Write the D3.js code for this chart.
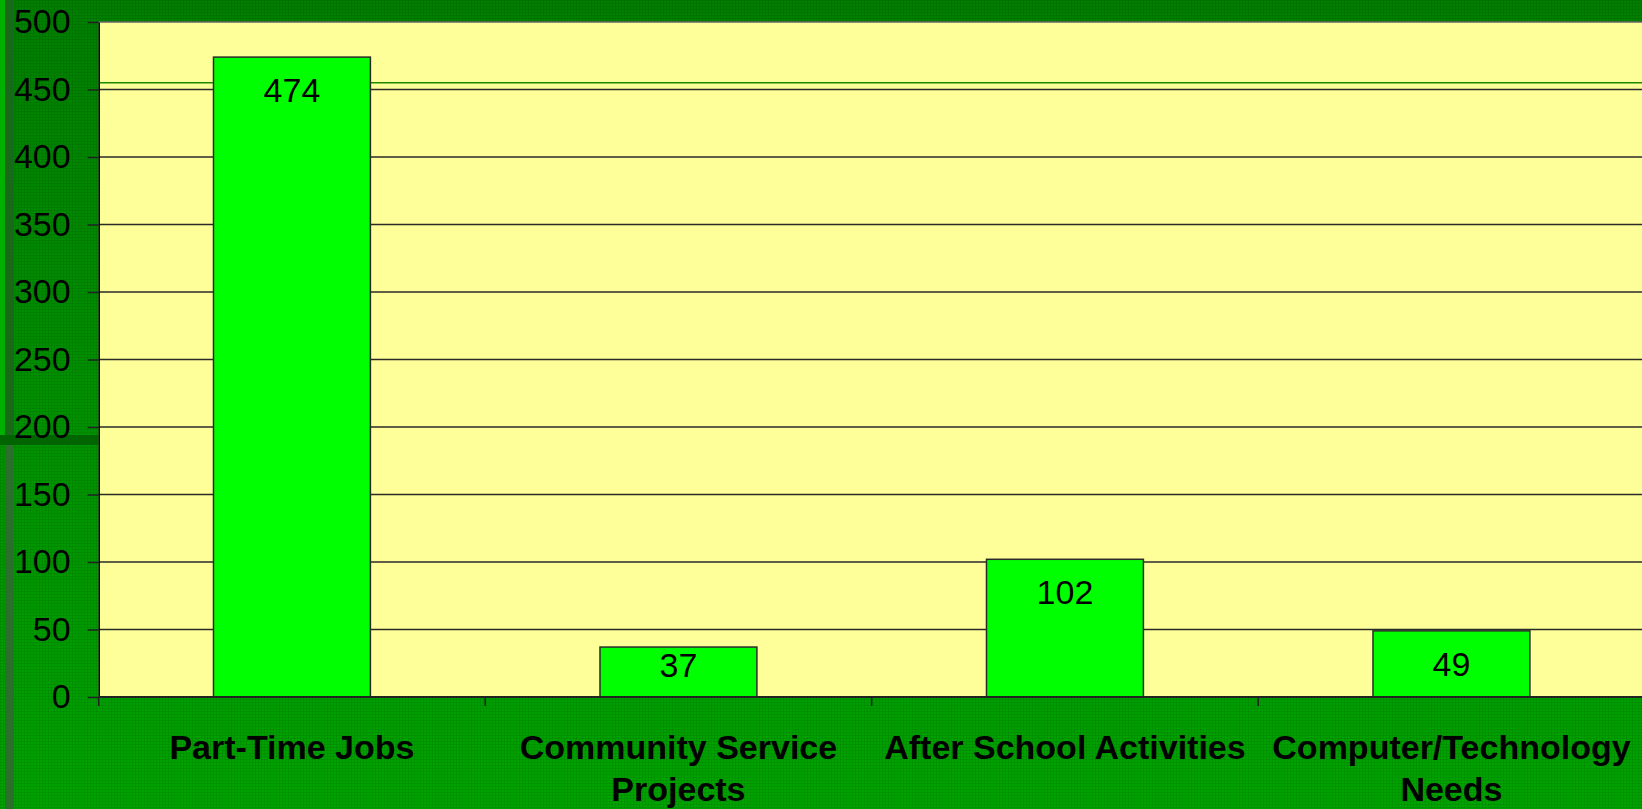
<!DOCTYPE html>
<html>
<head>
<meta charset="utf-8">
<script src="https://cdn.jsdelivr.net/npm/d3@7"></script>
<style>
  html, body { margin: 0; padding: 0; overflow: hidden; background: #008a00; }
  svg { display: block; }
  text { font-family: "Liberation Sans", Arial, sans-serif; }
</style>
</head>
<body>
<svg id="chart" width="1642" height="809"></svg>
<script>
// chart data
const categories = ["Part-Time Jobs", "Community Service Projects", "After School Activities", "Computer/Technology Needs"]
const counts = [474, 37, 102, 49]
const yTicks = [0, 50, 100, 150, 200, 250, 300, 350, 400, 450, 500]

const svg = d3.select("#chart")
const width = 1642
const height = 809
const margin = {top: 22, left: 98.7, bottom: 697}
const plotRight = 1644.7

// background, a rough copy of the slide texture
const defs = svg.append("defs")
const grad = defs.append("linearGradient")
  .attr("id", "bg").attr("x1", 0).attr("y1", 0).attr("x2", 0).attr("y2", 1)
grad.append("stop").attr("offset", "0%").attr("stop-color", "#007f00")
grad.append("stop").attr("offset", "100%").attr("stop-color", "#00a300")

const pat = defs.append("pattern")
  .attr("id", "weave").attr("width", 3).attr("height", 3)
  .attr("patternUnits", "userSpaceOnUse")
pat.append("rect").attr("width", 3).attr("height", 1).attr("fill", "rgba(0,0,0,0.07)")
pat.append("rect").attr("width", 1).attr("height", 3).attr("fill", "rgba(0,0,0,0.07)")

svg.append("rect").attr("width", width).attr("height", height).attr("fill", "url(#bg)")
svg.append("rect").attr("width", width).attr("height", height).attr("fill", "url(#weave)")

// left edge decoration
svg.append("rect").attr("x", 0).attr("y", 0).attr("width", 5).attr("height", 435).attr("fill", "#00b000")
svg.append("rect").attr("x", 5).attr("y", 0).attr("width", 9).attr("height", 435).attr("fill", "#186a18")
svg.append("rect").attr("x", 5).attr("y", 445).attr("width", 9).attr("height", 364).attr("fill", "#2c6e2c")
svg.append("rect").attr("x", 0).attr("y", 435).attr("width", margin.left).attr("height", 10).attr("fill", "#006400")

// scales
const x = d3.scaleBand()
  .domain(categories)
  .range([margin.left, plotRight])
  .paddingInner(0.594)
  .paddingOuter(0.297)

const y = d3.scaleLinear()
  .domain([0, 500])
  .range([margin.bottom, margin.top])

// plot area
svg.append("rect")
  .attr("x", margin.left).attr("y", margin.top)
  .attr("width", plotRight - margin.left).attr("height", margin.bottom - margin.top)
  .attr("fill", "#ffff99")

svg.append("g")
  .selectAll("line")
  .data(yTicks.filter(d => d > 0 && d < 500))
  .join("line")
  .attr("x1", margin.left).attr("x2", plotRight)
  .attr("y1", d => y(d)).attr("y2", d => y(d))
  .attr("stroke", "#2a2a2a").attr("stroke-width", 1.3)

svg.append("line")
  .attr("x1", margin.left).attr("x2", plotRight)
  .attr("y1", margin.top).attr("y2", margin.top)
  .attr("stroke", "#666").attr("stroke-width", 1.5)

// the thin green rule from the slide template
svg.append("line")
  .attr("x1", margin.left).attr("x2", plotRight)
  .attr("y1", y(455)).attr("y2", y(455))
  .attr("stroke", "#1d8a00").attr("stroke-width", 1.5)

// bars
svg.append("g")
  .selectAll("rect")
  .data(counts)
  .join("rect")
  .attr("x", (d, i) => x(categories[i]))
  .attr("y", d => y(d))
  .attr("width", x.bandwidth())
  .attr("height", d => y(0) - y(d))
  .attr("fill", "#00ff00")
  .attr("stroke", "#2b2b2b")
  .attr("stroke-width", 1.5)

svg.append("g")
  .selectAll("text")
  .data(counts)
  .join("text")
  .attr("x", (d, i) => x(categories[i]) + x.bandwidth() / 2)
  .attr("y", d => Math.min(y(d) + 45, y(0) - 20))
  .attr("text-anchor", "middle")
  .style("font-size", "34px")
  .attr("fill", "#000")
  .text(d => d)

// y axis
const yAxis = svg.append("g")
  .attr("transform", `translate(${margin.left},0)`)
  .call(d3.axisLeft(y).tickValues(yTicks).tickSize(11).tickSizeOuter(0).tickPadding(17))
yAxis.select(".domain").attr("stroke", "#000").attr("stroke-width", 1.5)
yAxis.selectAll(".tick line").attr("stroke", "#222").attr("stroke-width", 1.5)
yAxis.selectAll(".tick text")
  .style("font-size", "34px")
  .style("font-family", '"Liberation Sans", Arial, sans-serif')
  .attr("fill", "#000")

// x axis line and category boundary ticks
svg.append("line")
  .attr("x1", margin.left).attr("x2", plotRight)
  .attr("y1", y(0)).attr("y2", y(0))
  .attr("stroke", "#222").attr("stroke-width", 1.8)

const step = x.step()
svg.append("g")
  .selectAll("line")
  .data(d3.range(categories.length + 1))
  .join("line")
  .attr("x1", i => margin.left + i * step).attr("x2", i => margin.left + i * step)
  .attr("y1", y(0)).attr("y2", y(0) + 9)
  .attr("stroke", "#222").attr("stroke-width", 1.5)

// category labels, wrapped to the band width
const labels = svg.append("g")
  .selectAll("text")
  .data(categories)
  .join("text")
  .attr("x", d => x(d) + x.bandwidth() / 2)
  .attr("y", 759)
  .attr("text-anchor", "middle")
  .style("font-size", "34px")
  .style("font-weight", "bold")
  .attr("fill", "#000")

labels.each(function(d) {
  const t = d3.select(this)
  const cx = t.attr("x")
  const words = d.split(" ")
  let line = []
  let tspan = t.append("tspan").attr("x", cx).attr("dy", 0)
  words.forEach(w => {
    line.push(w)
    tspan.text(line.join(" "))
    if (tspan.node().getComputedTextLength() > step - 10 && line.length > 1) {
      line.pop()
      tspan.text(line.join(" "))
      line = [w]
      tspan = t.append("tspan").attr("x", cx).attr("dy", 42).text(w)
    }
  })
})
</script>
</body>
</html>
